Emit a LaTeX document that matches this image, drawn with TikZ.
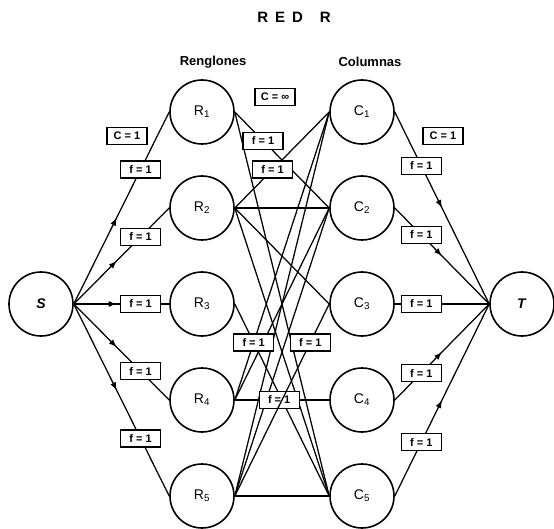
\documentclass[tikz,border=0pt]{standalone}
\usepackage{fontspec}
\setmainfont{Liberation Sans}
\usetikzlibrary{arrows.meta,positioning,decorations.markings}

\begin{document}
\begin{tikzpicture}[
  x=1pt, y=-1pt,
  vtx/.style={draw, circle, line width=1.6pt, minimum size=64pt,
              inner sep=0pt, font=\fontsize{14}{16}\selectfont},
  lbl/.style={draw, fill=white, line width=1.3pt, minimum width=40pt,
              minimum height=17pt, inner sep=1pt,
              font=\fontsize{11}{13}\selectfont\bfseries},
  lnk/.style={line width=1.25pt},
  flow/.style={lnk, postaction={decorate},
               decoration={markings, mark=at position #1 with
                           {\arrow{Latex[length=8pt, width=6pt]}}}},
  flow/.default=0.45,
  note/.style={font=\fontsize{13}{15}\selectfont\bfseries},
]
\useasboundingbox (0,0) rectangle (554,529);

%% --- Nodes ---
\node[vtx] (S) at (41,304) {\textit{\textbf{S}}};

\node[vtx] (R1) at (202,112) {R\textsubscript{1}};
\node[vtx, below=30.4pt of R1] (R2) {R\textsubscript{2}};
\node[vtx, below=30.4pt of R2] (R3) {R\textsubscript{3}};
\node[vtx, below=30.4pt of R3] (R4) {R\textsubscript{4}};
\node[vtx, below=30.4pt of R4] (R5) {R\textsubscript{5}};

\node[vtx, right=94.4pt of R1] (C1) {C\textsubscript{1}};
\node[vtx, right=94.4pt of R2] (C2) {C\textsubscript{2}};
\node[vtx, right=94.4pt of R3] (C3) {C\textsubscript{3}};
\node[vtx, right=94.4pt of R4] (C4) {C\textsubscript{4}};
\node[vtx, right=94.4pt of R5] (C5) {C\textsubscript{5}};

\node[vtx] (T) at (522,304) {\textit{\textbf{T}}};

%% --- Titles ---
\node[font=\fontsize{15}{17}\selectfont\bfseries] (title) at (294,17)
      {R\hspace{7pt}E\hspace{7pt}D\hspace{17pt}R};
\node[note] (rows) at (213,62) {Renglones};
\node[note] (cols) at (370,62) {Columnas};

%% --- Capacities ---
\node[lbl] (capS) at (127,136) {C = 1};
\node[lbl] (capM) at (275,97)  {C = ∞};
\node[lbl] (capT) at (443,136) {C = 1};

%% --- Source arcs ---
\draw[flow] (S.east) -- node[lbl, pos=0.7] {f = 1} (R1.west);
\draw[flow] (S.east) -- node[lbl, pos=0.7] {f = 1} (R2.west);
\draw[flow] (S.east) -- node[lbl, pos=0.7] {f = 1} (R3.west);
\draw[flow] (S.east) -- node[lbl, pos=0.7] {f = 1} (R4.west);
\draw[flow] (S.east) -- node[lbl, pos=0.7] {f = 1} (R5.west);

%% --- Row-column arcs ---
\draw[lnk] (R1.east) -- (C5.west);
\draw[lnk] (R2.east) -- (C2.west);
\draw[lnk] (R2.east) -- (C3.west);
\draw[lnk] (R2.east) -- (C5.west);
\draw[lnk] (R4.east) -- (C1.west);
\draw[lnk] (R4.east) -- (C2.west);
\draw[lnk] (R5.east) -- (C1.west);
\draw[lnk] (R5.east) -- (C2.west);
\draw[lnk] (R5.east) -- (C5.west);

\draw[lnk] (R1.east) -- node[lbl, pos=0.3]  {f = 1} (C2.west);
\draw[lnk] (R2.east) -- node[lbl, pos=0.4]  {f = 1} (C1.west);
\draw[lnk] (R3.east) -- node[lbl, pos=0.2]  {f = 1} (C5.west);
\draw[lnk] (R4.east) -- node[lbl, pos=0.47] {f = 1} (C4.west);
\draw[lnk] (R5.east) -- node[lbl, pos=0.8]  {f = 1} (C3.west);

%% --- Sink arcs ---
\draw[flow=0.5] (C1.east) -- node[lbl, pos=0.28] {f = 1} (T.west);
\draw[flow=0.5] (C2.east) -- node[lbl, pos=0.28] {f = 1} (T.west);
\draw[flow=0.5] (C3.east) -- node[lbl, pos=0.28] {f = 1} (T.west);
\draw[flow=0.5] (C4.east) -- node[lbl, pos=0.28] {f = 1} (T.west);
\draw[flow=0.5] (C5.east) -- node[lbl, pos=0.28] {f = 1} (T.west);

\end{tikzpicture}
\end{document}
